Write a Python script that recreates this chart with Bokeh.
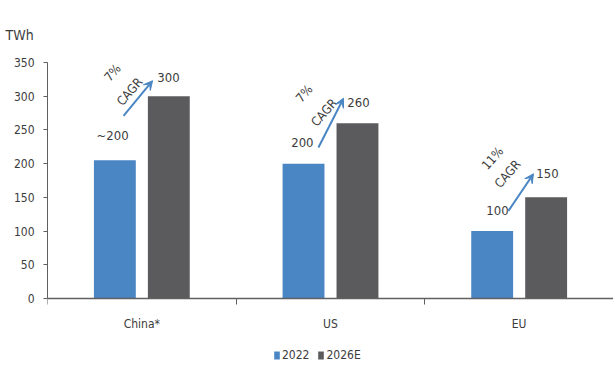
from bokeh.plotting import figure
from bokeh.models import (ColumnDataSource, FixedTicker, Legend, LegendItem,
                          Arrow, VeeHead, Range1d)
from bokeh.core.properties import value
from bokeh.embed import file_html
from bokeh.resources import INLINE

categories = ["China*", "US", "EU"]
series_names = ["2022", "2026E"]
values_2022 = [205, 200, 100]
values_2026 = [300, 260, 150]
labels_2022 = ["~200", "200", "100"]
labels_2026 = ["300", "260", "150"]
cagr_pct = ["7%", "7%", "11%"]
y_ticks = [0, 50, 100, 150, 200, 250, 300, 350]

FONT = "'Liberation Sans Narrow', 'DejaVu Sans Condensed', 'Arial Narrow', 'Liberation Sans', sans-serif"
BLUE = "#4a86c4"
GRAY = "#5b5b5d"
TXT = "#3c3c3c"
AXIS = "#606060"

centers = [i + 0.5 for i in range(len(categories))]
off = 0.143
bw = 0.222

# annotation offsets (x in category units from the group centre, y in TWh from bar top)
lab22_dx = [-0.155, -0.149, -0.115]
lab22_dy = [37, 31, 30]
lab26_dx = [0.141, 0.148, 0.15]
lab26_dy = [28, 31, 35]
arr_x0 = [-0.097, -0.064, -0.057]
arr_dy0 = [66, 24, 30]
arr_x1 = [0.057, 0.069, 0.076]
arr_dy1 = [23, 37, 35]
pct_dx = [-0.156, -0.14, -0.142]
pct_dy = [35, 44, 58]
cagr_dx = [-0.065, -0.035, -0.062]
cagr_dy = [7, 16, 35]

p = figure(width=613, height=365, output_backend="svg", toolbar_location=None,
           x_range=Range1d(0, 3), y_range=Range1d(-99.4, 350),
           min_border_left=47, min_border_right=0, min_border_top=62,
           min_border_bottom=0, title="TWh")
p.title.text_font = FONT
p.title.text_font_size = "14px"
p.title.text_font_style = "normal"
p.title.text_color = TXT
p.title.align = "left"
p.title.offset = -42
p.title.standoff = 40
p.outline_line_color = None
p.grid.visible = False

src1 = ColumnDataSource(dict(x=[c - off for c in centers], top=values_2022))
src2 = ColumnDataSource(dict(x=[c + off for c in centers], top=values_2026))
r1 = p.vbar(x="x", top="top", width=bw, source=src1, fill_color=BLUE, line_color=None)
r2 = p.vbar(x="x", top="top", width=bw, source=src2, fill_color=GRAY, line_color=None)

# y axis
p.yaxis.ticker = FixedTicker(ticks=y_ticks)
p.yaxis.bounds = (0, 350)
p.yaxis.axis_line_color = AXIS
p.yaxis.major_tick_line_color = AXIS
p.yaxis.major_tick_out = 4
p.yaxis.major_tick_in = 0
p.yaxis.minor_tick_line_color = None
p.yaxis.major_label_text_font = FONT
p.yaxis.major_label_text_font_size = "12px"
p.yaxis.major_label_text_color = TXT
p.yaxis.major_label_standoff = 9

# x axis at y=0: labels at category centres, tick marks between categories
p.xaxis.fixed_location = 0
p.xaxis.ticker = FixedTicker(ticks=centers, minor_ticks=[0, 1, 2, 3])
p.xaxis.major_label_overrides = {c: n for c, n in zip(centers, categories)}
p.xaxis.major_tick_line_color = None
p.xaxis.minor_tick_line_color = AXIS
p.xaxis.minor_tick_out = 6
p.xaxis.minor_tick_in = 0
p.xaxis.axis_line_color = AXIS
p.xaxis.axis_line_width = 1.5
p.xaxis.major_label_text_font = FONT
p.xaxis.major_label_text_font_size = "12px"
p.xaxis.major_label_text_color = TXT
p.xaxis.major_label_standoff = 13

# value labels
lab1 = ColumnDataSource(dict(x=[c + d for c, d in zip(centers, lab22_dx)],
                             y=[v + d for v, d in zip(values_2022, lab22_dy)], t=labels_2022))
lab2 = ColumnDataSource(dict(x=[c + d for c, d in zip(centers, lab26_dx)],
                             y=[v + d for v, d in zip(values_2026, lab26_dy)], t=labels_2026))
for s in (lab1, lab2):
    p.text(x="x", y="y", text="t", source=s, text_font=value(FONT),
           text_font_size="13px", text_color=TXT, text_align="center",
           text_baseline="middle")

# arrows
for i, c in enumerate(centers):
    p.add_layout(Arrow(x_start=c + arr_x0[i], y_start=values_2022[i] + arr_dy0[i],
                       x_end=c + arr_x1[i], y_end=values_2026[i] + arr_dy1[i],
                       line_color=BLUE, line_width=2,
                       end=VeeHead(size=9, line_color=BLUE, fill_color=BLUE)))

# CAGR texts
tx_pct = ColumnDataSource(dict(x=[c + d for c, d in zip(centers, pct_dx)],
                               y=[v + d for v, d in zip(values_2026, pct_dy)], t=cagr_pct))
tx_cagr = ColumnDataSource(dict(x=[c + d for c, d in zip(centers, cagr_dx)],
                                y=[v + d for v, d in zip(values_2026, cagr_dy)], t=["CAGR"] * 3))
for s in (tx_pct, tx_cagr):
    p.text(x="x", y="y", text="t", source=s, text_font=value(FONT),
           text_font_size="12.5px", text_color=TXT, text_align="center",
           text_baseline="middle", angle=0.85)

legend = Legend(items=[LegendItem(label=series_names[0], renderers=[r1]),
                       LegendItem(label=series_names[1], renderers=[r2])],
                orientation="horizontal", location=(226, 3),
                glyph_width=7, glyph_height=10, label_text_font=FONT,
                label_text_font_size="12px", label_text_color=TXT,
                border_line_color=None, background_fill_alpha=0,
                padding=0, margin=0, spacing=8, label_standoff=2)
p.add_layout(legend)

open("out.html", "w").write(file_html(p, INLINE))
